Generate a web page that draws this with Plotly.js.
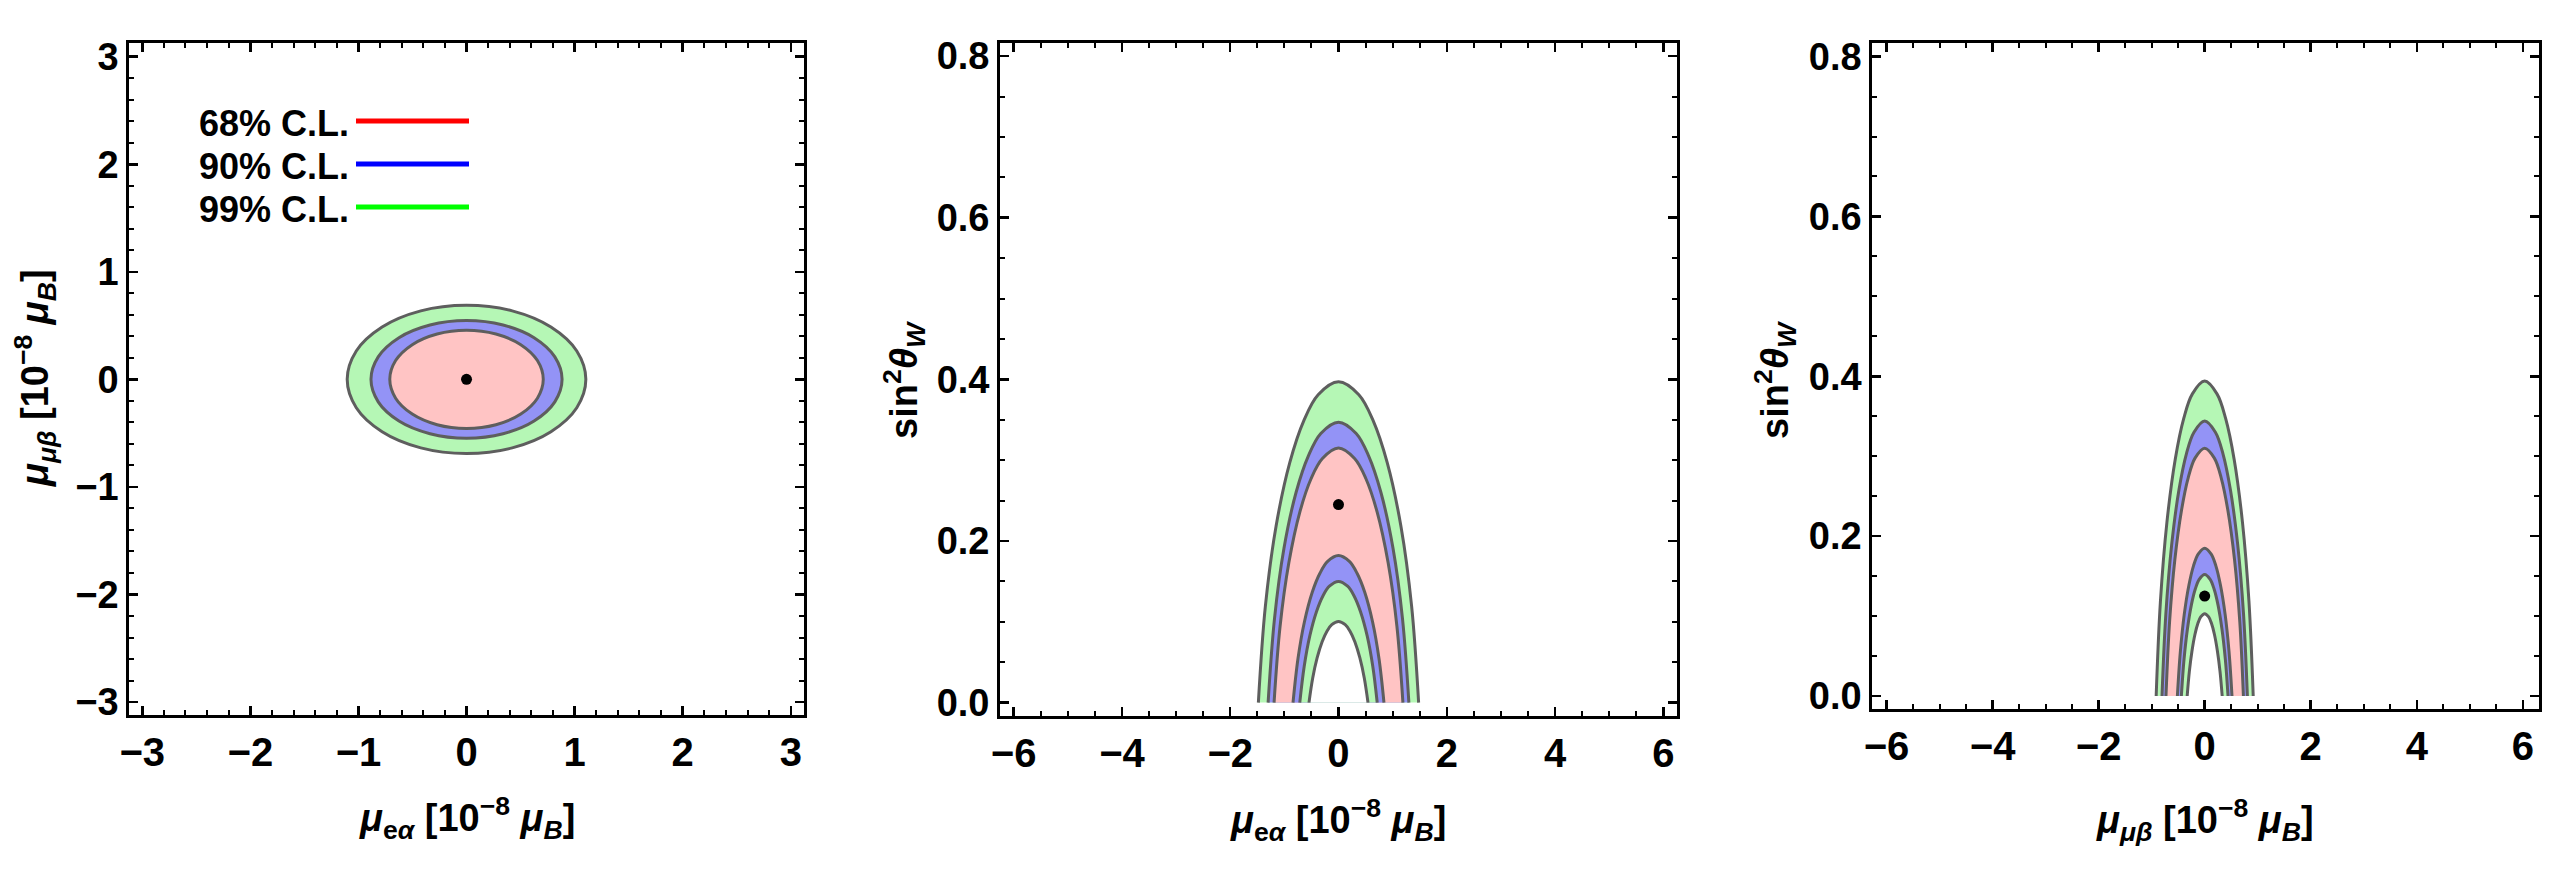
<!DOCTYPE html>
<html>
<head>
<meta charset="utf-8">
<script src="https://cdn.plot.ly/plotly-3.0.1.min.js"></script>
<style>html,body{margin:0;padding:0;background:#fff;}#chart{width:2550px;height:875px;}</style>
</head>
<body>
<div id="chart"></div>
<script>
// ---------------- DATA ----------------
const clLabels = ['68% C.L.', '90% C.L.', '99% C.L.'];

// Panel 1: mu_e_alpha vs mu_mu_beta, upper-right quarter of each contour (mirrored)
const p1Red68X   = [0.71, 0.656, 0.502, 0.272, 0];
const p1Red68Y   = [0, 0.175, 0.323, 0.422, 0.457];
const p1Blue90X  = [0.884, 0.817, 0.625, 0.338, 0];
const p1Blue90Y  = [0, 0.209, 0.387, 0.505, 0.547];
const p1Green99X = [1.104, 1.020, 0.781, 0.423, 0];
const p1Green99Y = [0, 0.264, 0.487, 0.637, 0.689];
const p1BestX = [0];
const p1BestY = [0];

// Panel 2: mu_e_alpha vs sin^2 theta_W, right half of each arch (mirrored)
const p2GreenOuterMu  = [1.48, 1.351, 1.154, 0.900, 0.640, 0.376, 0];
const p2GreenOuterSin = [0, 0.119, 0.218, 0.297, 0.349, 0.381, 0.397];
const p2BlueOuterMu   = [1.30, 1.182, 1.007, 0.784, 0.558, 0.327, 0];
const p2BlueOuterSin  = [0, 0.104, 0.191, 0.260, 0.305, 0.333, 0.347];
const p2RedOuterMu    = [1.19, 1.079, 0.917, 0.713, 0.507, 0.297, 0];
const p2RedOuterSin   = [0, 0.0945, 0.173, 0.236, 0.277, 0.302, 0.315];
const p2BlueInnerMu   = [0.84, 0.748, 0.629, 0.485, 0.343, 0.201, 0];
const p2BlueInnerSin  = [0, 0.0546, 0.100, 0.1365, 0.160, 0.1747, 0.182];
const p2GreenInnerMu  = [0.715, 0.633, 0.530, 0.407, 0.288, 0.168, 0];
const p2GreenInnerSin = [0, 0.045, 0.0825, 0.1125, 0.132, 0.144, 0.150];
const p2HoleMu        = [0.545, 0.477, 0.395, 0.302, 0.213, 0.124, 0];
const p2HoleSin       = [0, 0.0301, 0.0552, 0.0753, 0.0884, 0.0964, 0.1004];
const p2BestX = [0];
const p2BestY = [0.245];

// Panel 3: mu_mu_beta vs sin^2 theta_W, right half of each arch (mirrored)
const p3GreenOuterMu  = [0.915, 0.835, 0.713, 0.556, 0.396, 0.232, 0];
const p3GreenOuterSin = [0, 0.118, 0.217, 0.296, 0.347, 0.378, 0.394];
const p3BlueOuterMu   = [0.805, 0.732, 0.623, 0.485, 0.345, 0.202, 0];
const p3BlueOuterSin  = [0, 0.103, 0.189, 0.258, 0.303, 0.330, 0.344];
const p3RedOuterMu    = [0.73, 0.662, 0.563, 0.437, 0.311, 0.182, 0];
const p3RedOuterSin   = [0, 0.093, 0.1705, 0.2325, 0.273, 0.2976, 0.310];
const p3BlueInnerMu   = [0.515, 0.459, 0.386, 0.297, 0.211, 0.123, 0];
const p3BlueInnerSin  = [0, 0.0555, 0.1018, 0.1388, 0.1628, 0.1776, 0.185];
const p3GreenInnerMu  = [0.44, 0.390, 0.326, 0.251, 0.177, 0.103, 0];
const p3GreenInnerSin = [0, 0.0456, 0.0836, 0.114, 0.1338, 0.1459, 0.152];
const p3HoleMu        = [0.33, 0.289, 0.239, 0.183, 0.129, 0.075, 0];
const p3HoleSin       = [0, 0.0309, 0.0567, 0.0773, 0.0906, 0.0989, 0.103];
const p3BestX = [0];
const p3BestY = [0.125];

// ---------------- STYLE ----------------
const FILL_RED = '#FFC4C4', FILL_BLUE = '#9393F6', FILL_GREEN = '#B5F7B5', FILL_WHITE = '#FFFFFF';
const EDGE = '#5e5e5e';
const FONT = 'Liberation Sans, Arial, Helvetica, sans-serif';

function fullEllipse(qx, qy) {
  const xs = [], ys = [];
  for (let i = 0; i < qx.length; i++) { xs.push(qx[i]); ys.push(qy[i]); }
  for (let i = qx.length - 2; i >= 0; i--) { xs.push(-qx[i]); ys.push(qy[i]); }
  for (let i = 1; i < qx.length; i++) { xs.push(-qx[i]); ys.push(-qy[i]); }
  for (let i = qx.length - 2; i >= 0; i--) { xs.push(qx[i]); ys.push(-qy[i]); }
  return { xs, ys };
}
function fullArch(hw, h) {
  const xs = [], ys = [];
  for (let i = 0; i < hw.length; i++) { xs.push(-hw[i]); ys.push(h[i]); }
  for (let i = hw.length - 2; i >= 0; i--) { xs.push(hw[i]); ys.push(h[i]); }
  return { xs, ys };
}
function region(path, fill, xa, ya) {
  return { type: 'scatter', mode: 'lines', x: path.xs, y: path.ys, xaxis: xa, yaxis: ya,
    fill: 'toself', fillcolor: fill, line: { color: EDGE, width: 3, shape: 'spline', smoothing: 1 },
    hoverinfo: 'skip', showlegend: false };
}
function best(x, y, xa, ya) {
  return { type: 'scatter', mode: 'markers', x: x, y: y, xaxis: xa, yaxis: ya,
    marker: { color: 'black', size: 11 }, showlegend: false, hoverinfo: 'skip' };
}

const traces = [
  region(fullEllipse(p1Green99X, p1Green99Y), FILL_GREEN, 'x', 'y'),
  region(fullEllipse(p1Blue90X, p1Blue90Y), FILL_BLUE, 'x', 'y'),
  region(fullEllipse(p1Red68X, p1Red68Y), FILL_RED, 'x', 'y'),
  best(p1BestX, p1BestY, 'x', 'y'),

  region(fullArch(p2GreenOuterMu, p2GreenOuterSin), FILL_GREEN, 'x2', 'y2'),
  region(fullArch(p2BlueOuterMu, p2BlueOuterSin), FILL_BLUE, 'x2', 'y2'),
  region(fullArch(p2RedOuterMu, p2RedOuterSin), FILL_RED, 'x2', 'y2'),
  region(fullArch(p2BlueInnerMu, p2BlueInnerSin), FILL_BLUE, 'x2', 'y2'),
  region(fullArch(p2GreenInnerMu, p2GreenInnerSin), FILL_GREEN, 'x2', 'y2'),
  region(fullArch(p2HoleMu, p2HoleSin), FILL_WHITE, 'x2', 'y2'),
  best(p2BestX, p2BestY, 'x2', 'y2'),

  region(fullArch(p3GreenOuterMu, p3GreenOuterSin), FILL_GREEN, 'x3', 'y3'),
  region(fullArch(p3BlueOuterMu, p3BlueOuterSin), FILL_BLUE, 'x3', 'y3'),
  region(fullArch(p3RedOuterMu, p3RedOuterSin), FILL_RED, 'x3', 'y3'),
  region(fullArch(p3BlueInnerMu, p3BlueInnerSin), FILL_BLUE, 'x3', 'y3'),
  region(fullArch(p3GreenInnerMu, p3GreenInnerSin), FILL_GREEN, 'x3', 'y3'),
  region(fullArch(p3HoleMu, p3HoleSin), FILL_WHITE, 'x3', 'y3'),
  best(p3BestX, p3BestY, 'x3', 'y3')
];

function axis(domain, range, dtick, minorDtick, fontSize, anchor) {
  return {
    domain: domain, range: range, anchor: anchor, dtick: dtick, tick0: 0,
    showline: true, linewidth: 3, linecolor: 'black', mirror: 'allticks',
    ticks: 'inside', ticklen: 9, tickwidth: 2.5, tickcolor: 'black',
    minor: { ticks: 'inside', ticklen: 5, tickwidth: 2, tickcolor: 'black', dtick: minorDtick, tick0: 0, showgrid: false },
    showgrid: false, zeroline: false, fixedrange: true,
    tickfont: { family: FONT, size: fontSize, color: 'black', weight: 'bold' }
  };
}

const layout = {
  width: 2550, height: 875,
  margin: { l: 0, r: 0, t: 0, b: 0 },
  paper_bgcolor: 'white', plot_bgcolor: 'white',
  showlegend: false,
  font: { family: FONT, size: 38, color: 'black' },
  xaxis:  axis([0.0507, 0.3152], [-3.12, 3.12], 1, 0.2, 40, 'y'),
  yaxis:  axis([0.1829, 0.9512], [-3.12, 3.13], 1, 0.2, 38, 'x'),
  xaxis2: axis([0.3922, 0.6576], [-6.25, 6.25], 2, 0.5, 40, 'y2'),
  yaxis2: Object.assign(axis([0.1817, 0.9512], [-0.0166, 0.8166], 0.2, 0.05, 38, 'x2'), { tickformat: '.1f' }),
  xaxis3: axis([0.7342, 0.9958], [-6.27, 6.31], 2, 0.5, 40, 'y3'),
  yaxis3: Object.assign(axis([0.1894, 0.9505], [-0.0166, 0.8166], 0.2, 0.05, 38, 'x3'), { tickformat: '.1f' }),
  annotations: [],
  shapes: []
};

const titleFont = { family: FONT, size: 38, color: 'black' };
const xTitleEa = '<b><i>μ</i><sub>e<i>α</i></sub> [10<sup>−8</sup> <i>μ</i><sub><i>B</i></sub>]</b>';
const xTitleMb = '<b><i>μ</i><sub><i>μβ</i></sub> [10<sup>−8</sup> <i>μ</i><sub><i>B</i></sub>]</b>';
const yTitleSw = '<b>sin<sup>2</sup><i>θ</i><sub><i>W</i></sub></b>';
layout.annotations.push(
  { text: xTitleEa, xref: 'paper', yref: 'paper', x: 467/2550, y: 1 - 818/875, showarrow: false, font: titleFont, xanchor: 'center', yanchor: 'middle' },
  { text: xTitleMb, xref: 'paper', yref: 'paper', x: 35/2550, y: 1 - 378/875, showarrow: false, font: titleFont, textangle: -90, xanchor: 'center', yanchor: 'middle' },
  { text: xTitleEa, xref: 'paper', yref: 'paper', x: 1338/2550, y: 1 - 820/875, showarrow: false, font: titleFont, xanchor: 'center', yanchor: 'middle' },
  { text: yTitleSw, xref: 'paper', yref: 'paper', x: 904/2550, y: 1 - 380/875, showarrow: false, font: titleFont, textangle: -90, xanchor: 'center', yanchor: 'middle' },
  { text: xTitleMb, xref: 'paper', yref: 'paper', x: 2205/2550, y: 1 - 820/875, showarrow: false, font: titleFont, xanchor: 'center', yanchor: 'middle' },
  { text: yTitleSw, xref: 'paper', yref: 'paper', x: 1775/2550, y: 1 - 380/875, showarrow: false, font: titleFont, textangle: -90, xanchor: 'center', yanchor: 'middle' }
);

// Legend (text on the left, coloured line on the right)
const legendColors = ['#FF0000', '#0000FF', '#00FF00'];
const legendRows = [121, 164, 207];
clLabels.forEach((lab, i) => {
  layout.annotations.push({ text: '<b>' + lab + '</b>', xref: 'paper', yref: 'paper',
    x: 351/2550, y: 1 - (legendRows[i] + 2)/875, xanchor: 'right', yanchor: 'middle', showarrow: false,
    font: { family: FONT, size: 36, color: 'black' } });
  layout.shapes.push({ type: 'line', xref: 'paper', yref: 'paper',
    x0: 356/2550, x1: 469/2550, y0: 1 - legendRows[i]/875, y1: 1 - legendRows[i]/875,
    line: { color: legendColors[i], width: 5 } });
});

Plotly.newPlot('chart', traces, layout, { staticPlot: true, displayModeBar: false });
</script>
</body>
</html>
